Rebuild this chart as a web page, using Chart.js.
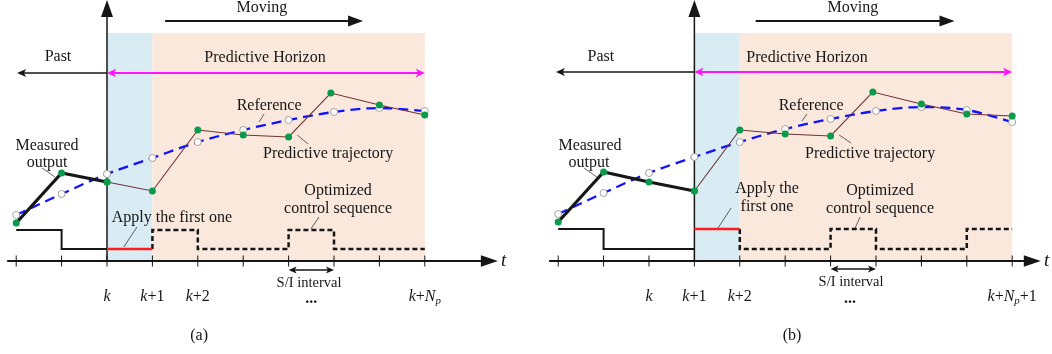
<!DOCTYPE html>
<html>
<head>
<meta charset="utf-8">
<script src="https://cdn.jsdelivr.net/npm/chart.js@4.4.1/dist/chart.umd.min.js"></script>
<style>
  html, body { margin: 0; padding: 0; background: #ffffff; }
  #wrap { display: flex; width: 1052px; height: 354px; }
  .panel { position: relative; width: 526px; height: 354px; }
  canvas { display: block; }
</style>
</head>
<body>
<div id="wrap">
  <div class="panel"><canvas id="panelA" width="526" height="354"></canvas></div>
  <div class="panel"><canvas id="panelB" width="526" height="354"></canvas></div>
</div>
<script>
// ---------- panel (a): optimisation at instant k (time in sample steps from k) ----------
const measT_A = [-2, -1, 0];
const measY_A = [3.8, 8.8, 7.9];
const predT_A = [0, 1, 2, 3, 4, 4.93, 6, 7];
const predY_A = [7.9, 7.0, 13.1, 12.6, 12.4, 16.8, 15.6, 14.6];
const refT_A = [-2, -1, 0, 1, 2, 3, 4, 5, 6, 7];
const refY_A = [4.6, 6.7, 8.7, 10.3, 11.9, 13.1, 14.1, 14.9, 15.3, 15.0];
const pastU_A = [3.1, 1.2];                    // inputs on [-2,-1], [-1,0]
const firstU_A = 1.2;                          // input applied on [0,1]
const planU_A = [3.1, 1.2, 1.2, 3.1, 1.2, 1.2]; // planned inputs on [1,2] ... [6,7]
const tickT_A = [-2, -1, 0, 1, 2, 3, 4, 5, 6, 7];
const tickLabelT_A = [0, 1, 2, 7];
const tickLabels_A = ['k', 'k+1', 'k+2', 'k+N_p'];

// ---------- panel (b): the same problem one step later, at k+1 ----------
const measT_B = [-2, -1, 0, 1];
const measY_B = [3.9, 8.9, 7.9, 7.0];
const predT_B = [1, 2, 3, 4, 4.93, 6, 7, 8];
const predY_B = [7.0, 13.1, 12.7, 12.5, 16.9, 15.7, 14.7, 14.5];
const refT_B = [-2, -1, 0, 1, 2, 3, 4, 5, 6, 7, 8];
const refY_B = [4.7, 6.8, 8.8, 10.4, 11.9, 13.2, 14.2, 15.0, 15.4, 15.1, 13.9];
const pastU_B = [3.2, 1.2, 1.2];
const firstU_B = 3.2;
const planU_B = [1.2, 1.2, 3.2, 1.2, 1.2, 3.2];
const tickT_B = [-2, -1, 0, 1, 2, 3, 4, 5, 6, 7, 8];
const tickLabelT_B = [0, 1, 2, 8];
const tickLabels_B = ['k', 'k+1', 'k+2', 'k+N_p+1'];

// ---------- styling ----------
const SERIF = '"Liberation Serif", "DejaVu Serif", serif';
const INK = '#161616';
const GREEN = '#0a9a4c';
const BROWN = '#6e3434';
const BLUE = '#1212ff';
const RED = '#ff1c1c';
const MAGENTA = '#ff14ff';
const NOW_FILL = '#d9ecf3';
const HORIZON_FILL = '#fbe8dc';

const zip = (t, v) => t.map((x, i) => ({ x, y: v[i] }));

// piecewise-constant input: one value per unit interval starting at `start`
function stepSeries(start, values, lead) {
  const pts = [];
  if (lead !== undefined) pts.push({ x: start, y: lead });
  values.forEach((v, i) => pts.push({ x: start + i, y: v }));
  pts.push({ x: start + values.length, y: values[values.length - 1] });
  return pts;
}

function arrowHead(ctx, x, y, ang, len, half, color, notch) {
  ctx.save();
  ctx.translate(x, y);
  ctx.rotate(ang);
  ctx.fillStyle = color;
  ctx.beginPath();
  ctx.moveTo(0, 0);
  ctx.lineTo(-len, -half);
  ctx.lineTo(-len * (1 - (notch || 0)), 0);
  ctx.lineTo(-len, half);
  ctx.closePath();
  ctx.fill();
  ctx.restore();
}

function arrow(ctx, x1, y1, x2, y2, o) {
  const ang = Math.atan2(y2 - y1, x2 - x1);
  const back = o.len * 0.6;
  const sx = o.both ? x1 + Math.cos(ang) * back : x1;
  const sy = o.both ? y1 + Math.sin(ang) * back : y1;
  ctx.save();
  ctx.strokeStyle = o.color;
  ctx.lineWidth = o.width;
  ctx.beginPath();
  ctx.moveTo(sx, sy);
  ctx.lineTo(x2 - Math.cos(ang) * back, y2 - Math.sin(ang) * back);
  ctx.stroke();
  ctx.restore();
  arrowHead(ctx, x2, y2, ang, o.len, o.half, o.color, o.notch);
  if (o.both) arrowHead(ctx, x1, y1, ang + Math.PI, o.len, o.half, o.color, o.notch);
}

// minimal math typesetting: letters italic, "_c" as a subscript
function drawMath(ctx, str, cx, baseY, size) {
  const segs = [];
  for (let i = 0; i < str.length; i++) {
    const c = str[i];
    if (c === '_') {
      segs.push({ t: str[i + 1], font: `italic ${size * 0.68}px ${SERIF}`, dy: size * 0.2 });
      i++;
    } else if (/[a-zA-Z]/.test(c)) {
      segs.push({ t: c, font: `italic ${size}px ${SERIF}`, dy: 0 });
    } else {
      segs.push({ t: c, font: `${size}px ${SERIF}`, dy: 0 });
    }
  }
  let total = 0;
  segs.forEach(s => { ctx.font = s.font; s.w = ctx.measureText(s.t).width; total += s.w; });
  let x = cx - total / 2;
  ctx.fillStyle = INK;
  ctx.textAlign = 'left';
  ctx.textBaseline = 'alphabetic';
  segs.forEach(s => { ctx.font = s.font; ctx.fillText(s.t, x, baseY + s.dy); x += s.w; });
}

function makeDiagramPlugin(p) {
  return {
    id: 'mpcDiagram',
    beforeDatasetsDraw(chart) {
      const { ctx, scales: { x, y } } = chart;
      const X = v => x.getPixelForValue(v);
      const Y = v => y.getPixelForValue(v);
      // current sampling interval and prediction horizon
      ctx.save();
      ctx.fillStyle = NOW_FILL;
      ctx.fillRect(X(p.nowBand[0]), Y(p.bandTop), X(p.nowBand[1]) - X(p.nowBand[0]), Y(0) - Y(p.bandTop));
      ctx.fillStyle = HORIZON_FILL;
      ctx.fillRect(X(p.horizonBand[0]), Y(p.bandTop), X(p.horizonBand[1]) - X(p.horizonBand[0]), Y(0) - Y(p.bandTop));
      ctx.restore();
      // time axis with ticks
      arrow(ctx, X(p.axisFrom), Y(0), X(p.axisTo), Y(0), { color: INK, width: 1.8, len: 17, half: 5.8 });
      ctx.save();
      ctx.strokeStyle = INK;
      ctx.lineWidth = 1;
      p.ticks.forEach(t => {
        ctx.beginPath();
        ctx.moveTo(X(t), Y(0) - 5.5);
        ctx.lineTo(X(t), Y(0) + 5.5);
        ctx.stroke();
      });
      ctx.restore();
      // output axis at the present instant
      arrow(ctx, X(p.axisT), Y(0), X(p.axisT), y.top, { color: INK, width: 1.5, len: 17, half: 6 });
    },
    afterDatasetsDraw(chart) {
      const { ctx, scales: { x, y } } = chart;
      const X = v => x.getPixelForValue(v);
      const Y = v => y.getPixelForValue(v);
      // arrows
      arrow(ctx, X(p.axisT), Y(p.pastY), X(p.pastTo), Y(p.pastY), { color: INK, width: 1.6, len: 9, half: 4, notch: 0.25 });
      arrow(ctx, X(p.horizonArrow[0]), Y(p.pastY), X(p.horizonArrow[1]), Y(p.pastY), { color: MAGENTA, width: 1.8, len: 9, half: 4.2, notch: 0.25, both: true });
      arrow(ctx, X(p.moving[0]), Y(p.movingY), X(p.moving[1]), Y(p.movingY), { color: INK, width: 1.8, len: 15, half: 5.5 });
      arrow(ctx, X(p.si[0]), Y(p.siY), X(p.si[1]), Y(p.siY), { color: INK, width: 1.5, len: 8, half: 3.6, notch: 0.25, both: true });
      // leader lines from the captions to their marks
      ctx.save();
      ctx.strokeStyle = '#3a3a3a';
      ctx.lineWidth = 0.8;
      p.leaders.forEach(l => {
        ctx.beginPath();
        ctx.moveTo(X(l[0]), Y(l[1]));
        ctx.lineTo(X(l[2]), Y(l[3]));
        ctx.stroke();
      });
      ctx.restore();
      // captions
      ctx.save();
      ctx.fillStyle = INK;
      ctx.textBaseline = 'alphabetic';
      p.texts.forEach(t => {
        ctx.font = `${t.weight || ''} ${t.style || ''} ${t.size || 16}px ${SERIF}`;
        ctx.textAlign = t.align || 'center';
        ctx.fillText(t.s, X(t.x), Y(t.y));
      });
      ctx.restore();
      // tick labels
      p.tickLabelT.forEach((t, i) => drawMath(ctx, p.tickLabels[i], X(t), Y(p.tickLabelY), 16));
    }
  };
}

function buildPanel(id, p) {
  const datasets = [
    { data: zip(p.measT, p.measY), showLine: true, borderColor: INK, borderWidth: 3.2,
      pointRadius: 3.5, pointBackgroundColor: GREEN, pointBorderWidth: 0, order: 1 },
    { data: zip(p.predT, p.predY), showLine: true, borderColor: BROWN, borderWidth: 1.1,
      pointRadius: 3.5, pointBackgroundColor: GREEN, pointBorderWidth: 0, order: 2 },
    { data: zip(p.refT, p.refY), showLine: false, pointRadius: 3.5,
      pointBackgroundColor: '#ffffff', pointBorderColor: '#9a9a9a', pointBorderWidth: 0.9, order: 4 },
    { data: zip(p.refT, p.refY), showLine: true, borderColor: BLUE, borderWidth: 2.3,
      borderDash: [10, 6], cubicInterpolationMode: 'monotone', pointRadius: 0, order: 5 },
    { data: stepSeries(-2, p.pastU), showLine: true, stepped: 'before', borderColor: INK,
      borderWidth: 2, pointRadius: 0, order: 6 },
    { data: stepSeries(p.axisT, [p.firstU]), showLine: true, stepped: 'before', borderColor: RED,
      borderWidth: 2.6, pointRadius: 0, order: 6 },
    { data: stepSeries(p.axisT + 1, p.planU, p.firstU), showLine: true, stepped: 'before', borderColor: INK,
      borderWidth: 2.5, borderDash: [5, 3], pointRadius: 0, order: 6 }
  ];
  return new Chart(document.getElementById(id), {
    type: 'scatter',
    data: { datasets },
    options: {
      responsive: false,
      animation: false,
      devicePixelRatio: 1,
      events: [],
      layout: { padding: 0, autoPadding: false },
      plugins: { legend: { display: false }, tooltip: { enabled: false } },
      scales: {
        x: { type: 'linear', min: p.xMin, max: p.xMax, display: false },
        y: { type: 'linear', min: -9.3, max: 26.1, display: false }
      }
    },
    plugins: [makeDiagramPlugin(p)]
  });
}

buildPanel('panelA', {
  measT: measT_A, measY: measY_A, predT: predT_A, predY: predY_A, refT: refT_A, refY: refY_A,
  pastU: pastU_A, firstU: firstU_A, planU: planU_A,
  ticks: tickT_A, tickLabelT: tickLabelT_A, tickLabels: tickLabels_A, tickLabelY: -4.0,
  axisT: 0, xMin: -2.357, xMax: 9.229,
  nowBand: [0, 1], horizonBand: [1, 7], bandTop: 22.8,
  axisFrom: -2.2, axisTo: 8.61,
  pastY: 18.8, pastTo: -1.98, horizonArrow: [0, 7],
  movingY: 24.0, moving: [1.28, 5.64],
  siY: -0.9, si: [4, 5],
  leaders: [[-1.43, 9.3, -1.15, 8.4], [3.35, 13.9, 3.46, 14.7], [4.19, 12.6, 4.43, 11.7],
            [0.66, 3.4, 0.37, 1.4], [4.67, 4.4, 4.49, 3.2]],
  texts: [
    { s: 'Moving', x: 3.41, y: 24.9 },
    { s: 'Past', x: -1.08, y: 20.0 },
    { s: 'Predictive Horizon', x: 3.48, y: 19.9 },
    { s: 'Reference', x: 3.57, y: 15.1 },
    { s: 'Predictive trajectory', x: 4.87, y: 10.3 },
    { s: 'Measured', x: -1.32, y: 11.1 },
    { s: 'output', x: -1.32, y: 9.4 },
    { s: 'Apply the first one', x: 1.43, y: 3.9 },
    { s: 'Optimized', x: 5.09, y: 6.6 },
    { s: 'control sequence', x: 5.09, y: 4.8 },
    { s: 'S/I interval', x: 4.45, y: -2.6, size: 14.5 },
    { s: '...', x: 4.5, y: -4.2, weight: 'bold' },
    { s: 't', x: 8.68, y: -0.5, style: 'italic', size: 19, align: 'left' },
    { s: '(a)', x: 2.03, y: -7.9 }
  ]
});

buildPanel('panelB', {
  measT: measT_B, measY: measY_B, predT: predT_B, predY: predY_B, refT: refT_B, refY: refY_B,
  pastU: pastU_B, firstU: firstU_B, planU: planU_B,
  ticks: tickT_B, tickLabelT: tickLabelT_B, tickLabels: tickLabels_B, tickLabelY: -4.0,
  axisT: 1, xMin: -2.709, xMax: 8.877,
  nowBand: [1, 2], horizonBand: [2, 8], bandTop: 22.8,
  axisFrom: -2.2, axisTo: 8.63,
  pastY: 18.9, pastTo: -2.05, horizonArrow: [1, 8],
  movingY: 24.0, moving: [2.35, 6.73],
  siY: -0.8, si: [4, 5],
  leaders: [[-1.43, 9.3, -1.15, 8.4], [3.37, 14.0, 3.48, 14.7], [4.19, 12.6, 4.45, 11.8],
            [1.81, 5.3, 1.52, 3.3], [4.65, 4.4, 4.54, 3.3]],
  texts: [
    { s: 'Moving', x: 4.49, y: 24.9 },
    { s: 'Past', x: -1.06, y: 20.0 },
    { s: 'Predictive Horizon', x: 3.48, y: 19.9 },
    { s: 'Reference', x: 3.57, y: 15.1 },
    { s: 'Predictive trajectory', x: 4.87, y: 10.3 },
    { s: 'Measured', x: -1.30, y: 11.1 },
    { s: 'output', x: -1.32, y: 9.4 },
    { s: 'Apply the', x: 2.60, y: 6.8 },
    { s: 'first one', x: 2.60, y: 5.0 },
    { s: 'Optimized', x: 5.09, y: 6.6 },
    { s: 'control sequence', x: 5.09, y: 4.8 },
    { s: 'S/I interval', x: 4.45, y: -2.5, size: 14.5 },
    { s: '...', x: 4.43, y: -4.2, weight: 'bold' },
    { s: 't', x: 8.70, y: -0.5, style: 'italic', size: 19, align: 'left' },
    { s: '(b)', x: 3.15, y: -7.9 }
  ]
});
</script>
</body>
</html>
